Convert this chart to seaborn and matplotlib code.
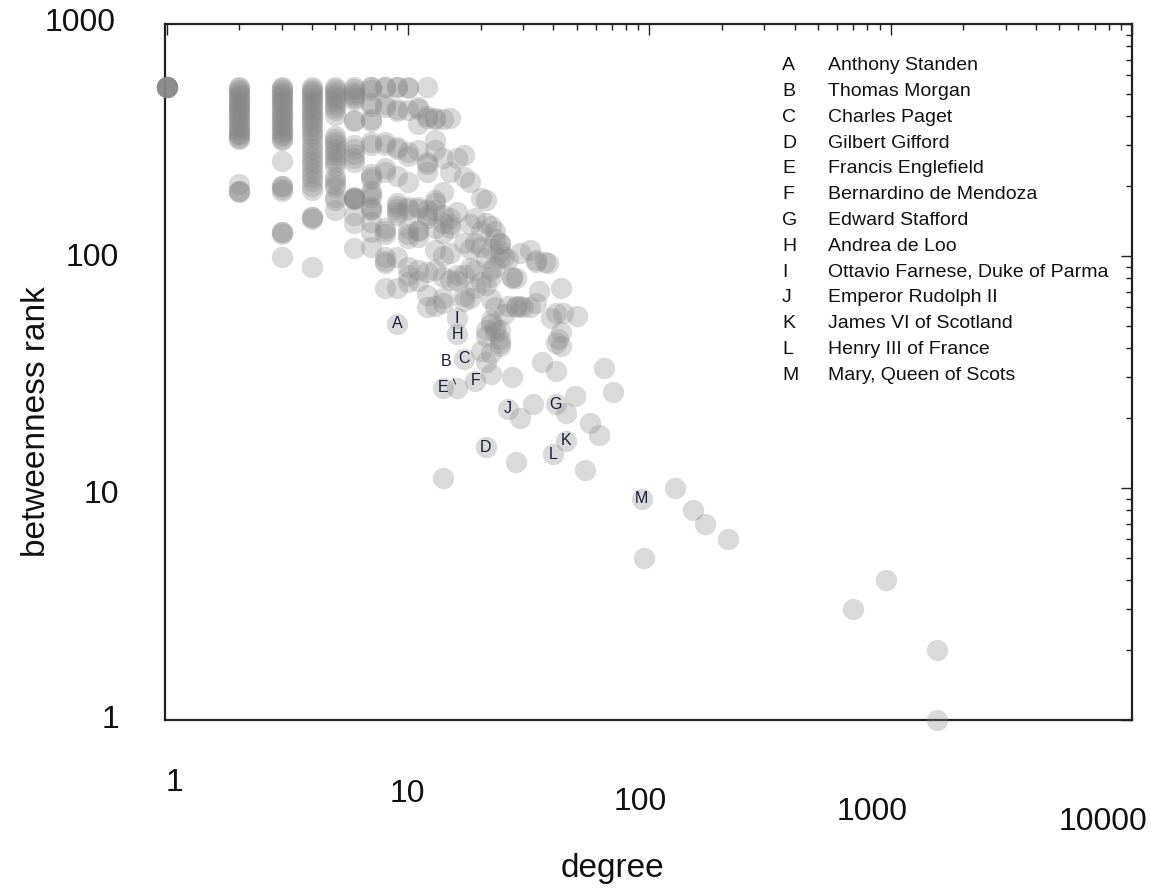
import pandas as pd
import seaborn as sns
import matplotlib.pyplot as plt
from matplotlib.ticker import LogLocator, NullFormatter

# degree columns and the betweenness ranks of the nodes in each column
col_degree = [1, 2, 3, 4, 5, 6, 7, 8, 9, 10, 11, 12, 13, 14, 15, 16, 17, 18, 19, 20,
              21, 22, 23, 24, 25, 26, 27, 28, 29, 30, 32, 33, 34, 35, 36, 37, 38, 39,
              41, 42, 43, 44, 45, 49, 50, 54, 57, 62, 65, 71, 95, 128, 152, 170, 212,
              700, 960, 1550]
col_ranks = [
    [535, 535, 535, 535, 535, 535, 535, 535],
    [535, 530, 520, 510, 500, 490, 480, 470, 460, 450, 445, 438, 430, 420, 412, 405,
     395, 388, 380, 372, 362, 355, 348, 340, 335, 328, 322, 318, 205, 190, 190, 188],
    [535, 528, 518, 508, 498, 488, 478, 468, 460, 450, 440, 430, 420, 410, 402, 393,
     385, 376, 368, 358, 350, 342, 335, 328, 320, 315, 258, 201, 200, 195, 190, 127,
     127, 125, 99],
    [535, 525, 515, 505, 495, 482, 470, 460, 448, 436, 425, 415, 405, 395, 385, 372,
     362, 350, 340, 328, 315, 300, 290, 278, 268, 258, 248, 238, 228, 218, 210, 200,
     193, 147, 147, 144, 90],
    [535, 525, 515, 500, 490, 478, 465, 452, 440, 428, 405, 330, 320, 310, 300, 290,
     280, 272, 262, 255, 245, 220, 212, 205, 198, 180, 175, 158],
    [535, 525, 510, 500, 490, 480, 470, 385, 380, 300, 290, 275, 265, 255, 180, 178,
     178, 176, 176, 150, 139, 108],
    [535, 535, 520, 455, 445, 390, 380, 310, 300, 225, 220, 215, 190, 185, 180, 163,
     160, 158, 140, 127, 109],
    [535, 535, 450, 440, 310, 300, 240, 230, 132, 128, 125, 99, 95, 93, 73],
    [535, 535, 430, 420, 295, 290, 222, 170, 165, 160, 155, 150, 99, 73],
    [535, 530, 426, 280, 270, 208, 163, 160, 132, 125, 120, 90, 83, 77],
    [440, 430, 370, 286, 163, 160, 130, 128, 121, 87, 78],
    [535, 400, 393, 255, 250, 230, 158, 150, 146, 85, 68, 60],
    [395, 390, 315, 285, 174, 170, 158, 132, 106, 87, 61],
    [390, 265, 188, 150, 139, 126, 100, 81, 66, 63, 11],
    [395, 230, 146, 138, 132, 103, 79],
    [265, 155, 83, 78],
    [272, 220, 114, 83, 67, 64],
    [208, 138, 107, 89, 66],
    [146, 114, 87, 73],
    [178, 128, 109, 77, 39],
    [174, 139, 98, 75, 48, 45, 35],
    [135, 107, 87, 81, 65, 53, 51, 38, 31],
    [128, 118, 90, 60, 49, 47],
    [114, 113, 105, 98, 48, 44, 42, 41],
    [99, 56],
    [97, 61],
    [81, 80, 30],
    [80, 61, 60, 13],
    [103, 61, 20],
    [60],
    [106, 60],
    [23],
    [96, 94, 63],
    [71],
    [35],
    [94],
    [93],
    [54],
    [57, 42, 32],
    [44],
    [73, 47, 41],
    [57],
    [21],
    [25],
    [55],
    [12],
    [19],
    [17],
    [33],
    [26],
    [5],
    [10],
    [8],
    [7],
    [6],
    [3],
    [4],
    [2, 1],
]

# labelled people
label_letters = ["A", "B", "C", "D", "E", "F", "G", "H", "I", "J", "K", "L", "M"]
label_names = ["Anthony Standen", "Thomas Morgan", "Charles Paget", "Gilbert Gifford",
               "Francis Englefield", "Bernardino de Mendoza", "Edward Stafford",
               "Andrea de Loo", "Ottavio Farnese, Duke of Parma", "Emperor Rudolph II",
               "James VI of Scotland", "Henry III of France", "Mary, Queen of Scots"]
label_degree = [9, 16, 17, 21, 14, 19, 41, 16, 16, 26, 45, 40, 93]
label_rank = [51, 27, 36, 15, 27, 29, 23, 46, 54, 22, 16, 14, 9]

x_ticks = [1, 10, 100, 1000, 10000]
y_ticks = [1, 10, 100, 1000]

rows = [(d, r) for d, rs in zip(col_degree, col_ranks) for r in rs]
rows += list(zip(label_degree, label_rank))
df = pd.DataFrame(rows, columns=["degree", "rank"])

sns.set_style("white")
plt.rcParams["font.family"] = ["Liberation Sans", "DejaVu Sans"]

W, H = 1154, 893
def px(x, y):
    return x / W, 1 - y / H

fig = plt.figure(figsize=(W / 100, H / 100), dpi=100)
ax = fig.add_axes([165 / W, 1 - 720 / H, (1132 - 165) / W, (720 - 24) / H])

sns.scatterplot(data=df, x="degree", y="rank", s=235, color="#888888", alpha=0.31,
                linewidth=0, ax=ax, clip_on=False, legend=False, zorder=3)

ax.set_xscale("log")
ax.set_yscale("log")
ax.set_xlim(0.985, 10000)
ax.set_ylim(1, 1000)
ax.set_xlabel("")
ax.set_ylabel("")

ax.set_xticks(x_ticks)
ax.set_yticks(y_ticks)
ax.xaxis.set_minor_locator(LogLocator(base=10, subs=range(2, 10), numticks=20))
ax.yaxis.set_minor_locator(LogLocator(base=10, subs=range(2, 10), numticks=20))
ax.xaxis.set_minor_formatter(NullFormatter())
ax.yaxis.set_minor_formatter(NullFormatter())
ax.tick_params(which="both", direction="in", top=True, right=True,
               labelbottom=False, labelleft=False, color="#222222", width=1)
ax.tick_params(which="major", length=8)
ax.tick_params(which="minor", length=4)
for sp in ax.spines.values():
    sp.set_linewidth(1.6)
    sp.set_color("#222222")

# staggered tick labels as in the original
xlab_pos = [(174, 783), (407, 794), (640, 802), (872, 812), (1103, 822)]
for t, (x, y) in zip(x_ticks, xlab_pos):
    fig.text(*px(x, y), f"{t}", ha="center", va="center", fontsize=23, color="#111111")
ylab_pos = [(119, 720), (119, 495), (119, 258), (116, 23)]
for t, (x, y) in zip(y_ticks, ylab_pos):
    fig.text(*px(x, y), f"{t}", ha="right", va="center", fontsize=23, color="#111111")

fig.text(*px(612, 868), "degree", ha="center", va="center", fontsize=24, color="#111111")
fig.text(*px(37, 422), "betweenness rank", ha="center", va="center", rotation=90,
         fontsize=24, color="#111111")

# letters on the points
for letter, d, r in zip(label_letters, label_degree, label_rank):
    if letter == "B":
        ax.annotate(letter, xy=(d, r), xytext=(-8, 19), textcoords="offset points",
                    ha="center", va="center", fontsize=11.5, color="#1c1c3a", zorder=5,
                    arrowprops=dict(arrowstyle="-", lw=0.8, color="#333333",
                                    shrinkA=5, shrinkB=3))
    else:
        ax.text(d, r, letter, ha="center", va="center", fontsize=11.5,
                color="#1c1c3a", zorder=5)

# key
for i, (letter, name) in enumerate(zip(label_letters, label_names)):
    y = 65.7 + 25.8 * i
    fig.text(*px(782, y), letter, ha="left", va="center", fontsize=14, color="#111111")
    fig.text(*px(828, y), name, ha="left", va="center", fontsize=14, color="#111111")

fig.savefig("out.png", dpi=100)
